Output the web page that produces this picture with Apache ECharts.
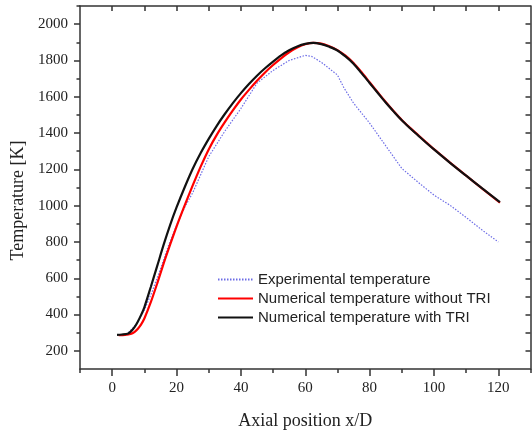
<!DOCTYPE html>
<html>
<head>
<meta charset="utf-8">
<script src="https://cdn.jsdelivr.net/npm/echarts@6/dist/echarts.min.js"></script>
<style>
html,body{margin:0;padding:0;background:#fff;}
#c{width:532px;height:436px;}
</style>
</head>
<body>
<div id="c"></div>
<script>
// ---- data ----
const seriesNames = ['Experimental temperature', 'Numerical temperature without TRI', 'Numerical temperature with TRI'];

const expX = [5, 7.5, 10, 12.5, 15, 17.5, 20, 22.5, 25, 30, 35, 40, 45, 50, 55, 60, 62, 65, 70, 72, 75, 80, 85, 90, 95, 100, 105, 110, 115, 120];
const expT = [300, 345, 425, 530, 650, 780, 890, 990, 1070, 1270, 1410, 1535, 1675, 1745, 1800, 1828, 1822, 1790, 1720, 1650, 1565, 1455, 1330, 1205, 1130, 1058, 1002, 935, 865, 800];

const noTriX = [2, 4, 6, 7, 8, 9, 10, 12, 14, 16, 18, 20, 22.5, 25, 27.5, 30, 32.5, 35, 37.5, 40, 42.5, 45, 47.5, 50, 52.5, 55, 57.5, 60, 62.5, 65, 67.5, 70, 72.5, 75, 77.5, 80, 82.5, 85, 87.5, 90, 92.5, 95, 97.5, 100, 105, 110, 115, 120.5];
const noTriT = [287, 288, 295, 305, 322, 346, 378, 468, 572, 682, 785, 885, 1000, 1110, 1215, 1310, 1390, 1460, 1525, 1585, 1638, 1688, 1734, 1775, 1812, 1845, 1871, 1889, 1897, 1893, 1878, 1857, 1826, 1786, 1735, 1680, 1625, 1571, 1520, 1472, 1430, 1390, 1350, 1311, 1237, 1165, 1094, 1016];

const triX = [1.5, 3, 5, 6, 7, 8, 9, 10, 12, 14, 16, 18, 20, 22.5, 25, 27.5, 30, 32.5, 35, 37.5, 40, 42.5, 45, 47.5, 50, 52.5, 55, 57.5, 60, 62.5, 65, 67.5, 70, 72.5, 75, 77.5, 80, 82.5, 85, 87.5, 90, 92.5, 95, 97.5, 100, 105, 110, 115, 120.5];
const triT = [288, 290, 296, 310, 332, 362, 398, 440, 552, 668, 785, 893, 990, 1100, 1202, 1290, 1368, 1440, 1505, 1565, 1620, 1670, 1716, 1757, 1794, 1828, 1856, 1877, 1891, 1897, 1890, 1875, 1855, 1822, 1782, 1730, 1676, 1622, 1568, 1518, 1470, 1428, 1388, 1348, 1310, 1236, 1165, 1095, 1020];

const xMajorTicks = [0, 20, 40, 60, 80, 100, 120];
const xMinorTicks = [-10, 10, 30, 50, 70, 90, 110, 130];
const xTopTicks = [0, 10, 20, 30, 40, 50, 60, 70, 80, 90, 100, 110, 120];
const yMajorTicks = [200, 400, 600, 800, 1000, 1200, 1400, 1600, 1800, 2000];
const yMinorTicks = [300, 500, 700, 900, 1100, 1300, 1500, 1700, 1900, 2100];
const yRightTicks = [200, 300, 400, 500, 600, 700, 800, 900, 1000, 1100, 1200, 1300, 1400, 1500, 1600, 1700, 1800, 1900, 2000];

const zip = (xs, ys) => xs.map((x, i) => [x, ys[i]]);

const axisCol = '#333';
const serif = '"Liberation Serif", "Times New Roman", serif';
const sans = '"Liberation Sans", Arial, sans-serif';
const plain = v => String(v);

const chart = echarts.init(document.getElementById('c'), null, {renderer: 'canvas'});
chart.setOption({
  animation: false,
  backgroundColor: '#fff',
  grid: {left: 80, right: 1.5, top: 6, bottom: 67, containLabel: false},
  legend: {
    orient: 'vertical',
    left: 212, top: 267,
    itemWidth: 35, itemHeight: 15, itemGap: 4,
    data: seriesNames,
    itemStyle: {opacity: 0},
    textStyle: {fontFamily: sans, fontSize: 15, color: '#222', lineHeight: 15}
  },
  xAxis: [
    {
      type: 'value', min: -10, max: 130, position: 'bottom',
      axisLine: {show: true, onZero: false, lineStyle: {color: axisCol, width: 1.5}},
      axisTick: {show: true, inside: false, length: 7, customValues: xMajorTicks, lineStyle: {color: axisCol, width: 1.5}},
      axisLabel: {show: true, customValues: xMajorTicks, formatter: plain, margin: 12, fontFamily: serif, fontSize: 15, color: '#222'},
      splitLine: {show: false},
      name: 'Axial position x/D', nameLocation: 'middle', nameGap: 43,
      nameTextStyle: {fontFamily: serif, fontSize: 18, color: '#222'}
    },
    {
      type: 'value', min: -10, max: 130, position: 'bottom',
      axisLine: {show: false, onZero: false},
      axisTick: {show: true, inside: false, length: 4, customValues: xMinorTicks, lineStyle: {color: axisCol, width: 1.5}},
      axisLabel: {show: false},
      splitLine: {show: false}
    },
    {
      type: 'value', min: -10, max: 130, position: 'top',
      axisLine: {show: true, onZero: false, lineStyle: {color: axisCol, width: 1.5}},
      axisTick: {show: true, inside: true, length: 5, customValues: xTopTicks, lineStyle: {color: axisCol, width: 1.5}},
      axisLabel: {show: false},
      splitLine: {show: false}
    }
  ],
  yAxis: [
    {
      type: 'value', min: 100, max: 2100, position: 'left',
      axisLine: {show: true, onZero: false, lineStyle: {color: axisCol, width: 1.5}},
      axisTick: {show: true, inside: false, length: 6, customValues: yMajorTicks, lineStyle: {color: axisCol, width: 1.5}},
      axisLabel: {show: true, customValues: yMajorTicks, formatter: plain, margin: 12, fontFamily: serif, fontSize: 15, color: '#222'},
      splitLine: {show: false},
      name: 'Temperature [K]', nameLocation: 'middle', nameGap: 51,
      nameTextStyle: {fontFamily: serif, fontSize: 18, color: '#222', padding: [0, 26, 0, 0]}
    },
    {
      type: 'value', min: 100, max: 2100, position: 'left',
      axisLine: {show: false, onZero: false},
      axisTick: {show: true, inside: false, length: 3.5, customValues: yMinorTicks, lineStyle: {color: axisCol, width: 1.5}},
      axisLabel: {show: false},
      splitLine: {show: false}
    },
    {
      type: 'value', min: 100, max: 2100, position: 'right',
      axisLine: {show: true, onZero: false, lineStyle: {color: axisCol, width: 1.5}},
      axisTick: {show: true, inside: true, length: 5, customValues: yRightTicks, lineStyle: {color: axisCol, width: 1.5}},
      axisLabel: {show: false},
      splitLine: {show: false}
    }
  ],
  series: [
    {
      name: seriesNames[0], type: 'line', xAxisIndex: 0, yAxisIndex: 0,
      data: zip(expX, expT), showSymbol: false, symbol: 'none', smooth: false,
      lineStyle: {color: '#6c6ce6', width: 1.2, type: [1.5, 1.5]},
      itemStyle: {color: '#6c6ce6'}, z: 2
    },
    {
      name: seriesNames[1], type: 'line', xAxisIndex: 0, yAxisIndex: 0,
      data: zip(noTriX, noTriT), showSymbol: false, symbol: 'none', smooth: 0.3,
      lineStyle: {color: '#ff0000', width: 2.2},
      itemStyle: {color: '#ff0000'}, z: 3
    },
    {
      name: seriesNames[2], type: 'line', xAxisIndex: 0, yAxisIndex: 0,
      data: zip(triX, triT), showSymbol: false, symbol: 'none', smooth: 0.3,
      lineStyle: {color: '#111111', width: 2.2},
      itemStyle: {color: '#111111'}, z: 4
    }
  ]
});
</script>
</body>
</html>
